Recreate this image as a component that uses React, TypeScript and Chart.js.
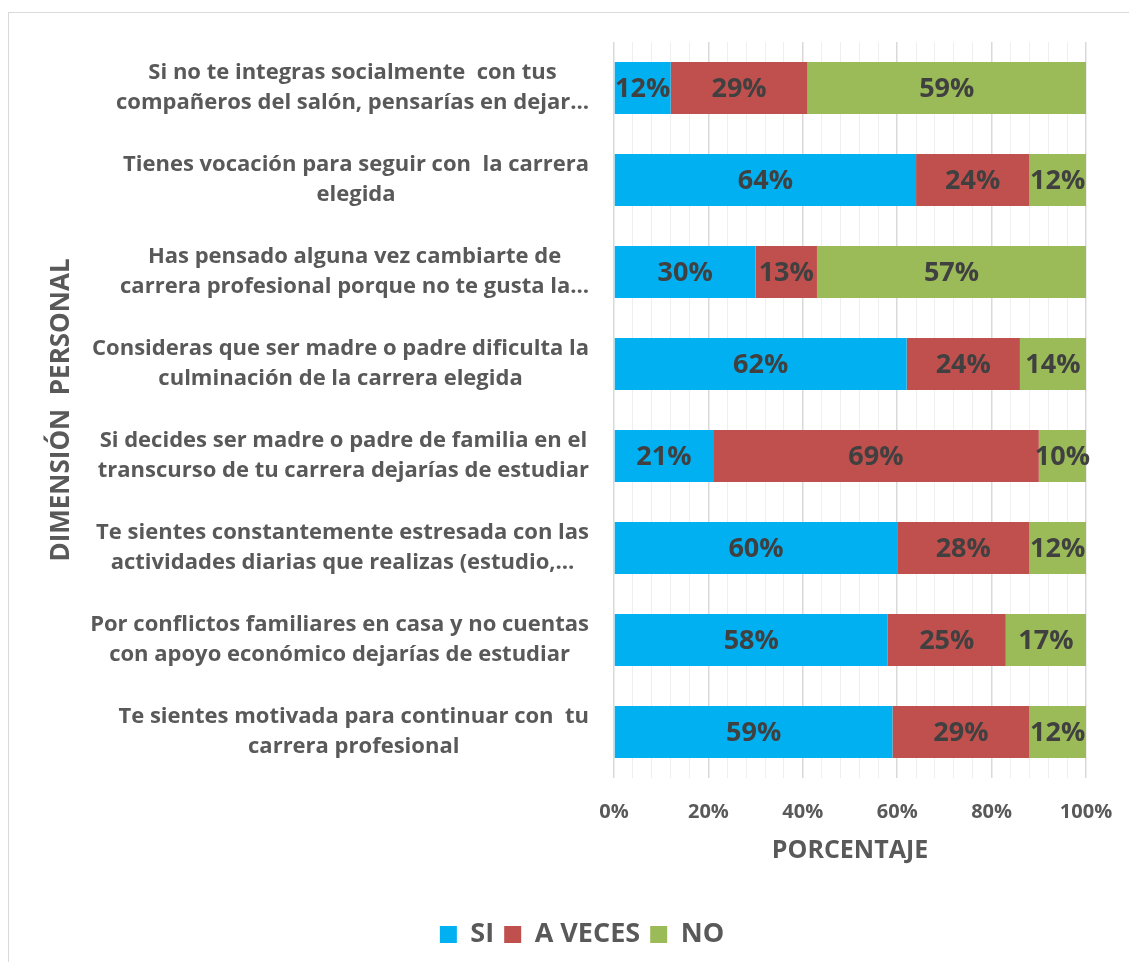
import React, { useEffect, useRef } from "react";
import { Chart, registerables } from "chart.js";

Chart.register(...registerables);

const categories: string[][] = [
  ["Si no te integras socialmente  con tus", "compañeros del salón, pensarías en dejar…"],
  ["Tienes vocación para seguir con  la carrera", "elegida"],
  ["Has pensado alguna vez cambiarte de", "carrera profesional porque no te gusta la…"],
  ["Consideras que ser madre o padre dificulta la", "culminación de la carrera elegida"],
  ["Si decides ser madre o padre de familia en el", "transcurso de tu carrera dejarías de estudiar"],
  ["Te sientes constantemente estresada con las", "actividades diarias que realizas (estudio,…"],
  ["Por conflictos familiares en casa y no cuentas", "con apoyo económico dejarías de estudiar"],
  ["Te sientes motivada para continuar con  tu", "carrera profesional"],
];

const siValues = [12, 64, 30, 62, 21, 60, 58, 59];
const aVecesValues = [29, 24, 13, 24, 69, 28, 25, 29];
const noValues = [59, 12, 57, 14, 10, 12, 17, 12];

const seriesNames = ["SI", "A VECES", "NO"];
const seriesColors = ["#00B0F0", "#C0504D", "#9BBB59"];

const xTickValues = [0, 20, 40, 60, 80, 100];
const yAxisTitle = "DIMENSIÓN  PERSONAL";
const xAxisTitle = "PORCENTAJE";

const FONT = "'Open Sans', sans-serif";
const TEXT = "#595959";

const labelsPlugin = {
  id: "customLabels",
  afterDatasetsDraw(chart: any) {
    const ctx = chart.ctx;
    const yScale = chart.scales.y;
    const xScale = chart.scales.x;
    ctx.save();
    // data labels
    ctx.font = `bold 27px ${FONT}`;
    ctx.fillStyle = "#404040";
    ctx.textAlign = "center";
    ctx.textBaseline = "middle";
    chart.data.datasets.forEach((ds: any, di: number) => {
      const meta = chart.getDatasetMeta(di);
      meta.data.forEach((bar: any, i: number) => {
        const cx = (bar.x + bar.base) / 2;
        ctx.fillText(ds.data[i] + "%", cx, bar.y + 1);
      });
    });
    // category labels
    ctx.font = `bold 22px ${FONT}`;
    ctx.fillStyle = TEXT;
    const right = xScale.left - 25;
    chart.data.labels.forEach((lab: string[], i: number) => {
      const y = yScale.getPixelForValue(i);
      const w = Math.max(...lab.map((l) => ctx.measureText(l).width));
      const cx = right - w / 2;
      const lh = 30;
      lab.forEach((line, k) => {
        ctx.fillText(line, cx, y + (k - (lab.length - 1) / 2) * lh);
      });
    });
    // y axis title
    ctx.font = `bold 26px ${FONT}`;
    ctx.translate(62, (yScale.top + yScale.bottom) / 2);
    ctx.rotate(-Math.PI / 2);
    ctx.fillText(yAxisTitle, 0, 0);
    ctx.restore();
  },
};

export default function App() {
  const ref = useRef<HTMLCanvasElement | null>(null);
  useEffect(() => {
    if (!ref.current) return;
    const chart = new Chart(ref.current, {
      type: "bar",
      data: {
        labels: categories as any,
        datasets: [siValues, aVecesValues, noValues].map((d, i) => ({
          label: seriesNames[i],
          data: d,
          backgroundColor: seriesColors[i],
          borderWidth: 0,
          barPercentage: 0.565,
          categoryPercentage: 1,
        })),
      },
      options: {
        indexAxis: "y",
        animation: false,
        responsive: false,
        maintainAspectRatio: false,
        layout: { padding: { left: 78, top: 42, right: 43, bottom: 4 } },
        scales: {
          x: {
            stacked: true,
            min: 0,
            max: 100,
            border: { display: false },
            grid: {
              drawTicks: true,
              tickLength: 14,
              tickColor: "rgba(0,0,0,0)",
              color: (c: any) =>
                c.tick && c.tick.value % 20 === 0 ? "#d9d9d9" : "#efefef",
              lineWidth: (c: any) => (c.tick && c.tick.value % 20 === 0 ? 1.5 : 1),
            },
            afterBuildTicks: (scale: any) => {
              const t = [];
              for (let v = 0; v <= 100; v += 4) t.push({ value: v });
              scale.ticks = t;
            },
            ticks: {
              padding: 8,
              autoSkip: false,
              maxRotation: 0,
              color: TEXT,
              font: { family: FONT, size: 20, weight: "bold" },
              callback: (v: any) => (xTickValues.includes(Number(v)) ? v + "%" : ""),
            },
            title: {
              display: true,
              text: xAxisTitle,
              color: TEXT,
              font: { family: FONT, size: 25, weight: "bold" },
              padding: { top: 4, bottom: 45 },
            },
          },
          y: {
            stacked: true,
            display: true,
            grid: { display: false },
            border: { display: false },
            ticks: { display: false },
            afterFit: (scale: any) => {
              scale.width = 536;
            },
          },
        },
        plugins: {
          legend: {
            position: "bottom",
            labels: {
              boxWidth: 17,
              boxHeight: 17,
              color: TEXT,
              padding: 10,
              font: { family: FONT, size: 27, weight: "bold" },
            },
          },
          tooltip: { enabled: false },
        },
      },
      plugins: [labelsPlugin],
    } as any);
    return () => chart.destroy();
  }, []);

  return (
    <div style={{ position: "fixed", left: 0, top: 0, width: 1129, height: 962, background: "#fff" }}>
      <div
        style={{
          position: "absolute",
          left: 8,
          top: 12,
          width: 1140,
          height: 980,
          borderLeft: "1.5px solid #d9d9d9",
          borderTop: "1.5px solid #d9d9d9",
        }}
      />
      <canvas ref={ref} width={1129} height={962} style={{ position: "absolute", left: 0, top: 0 }} />
    </div>
  );
}
